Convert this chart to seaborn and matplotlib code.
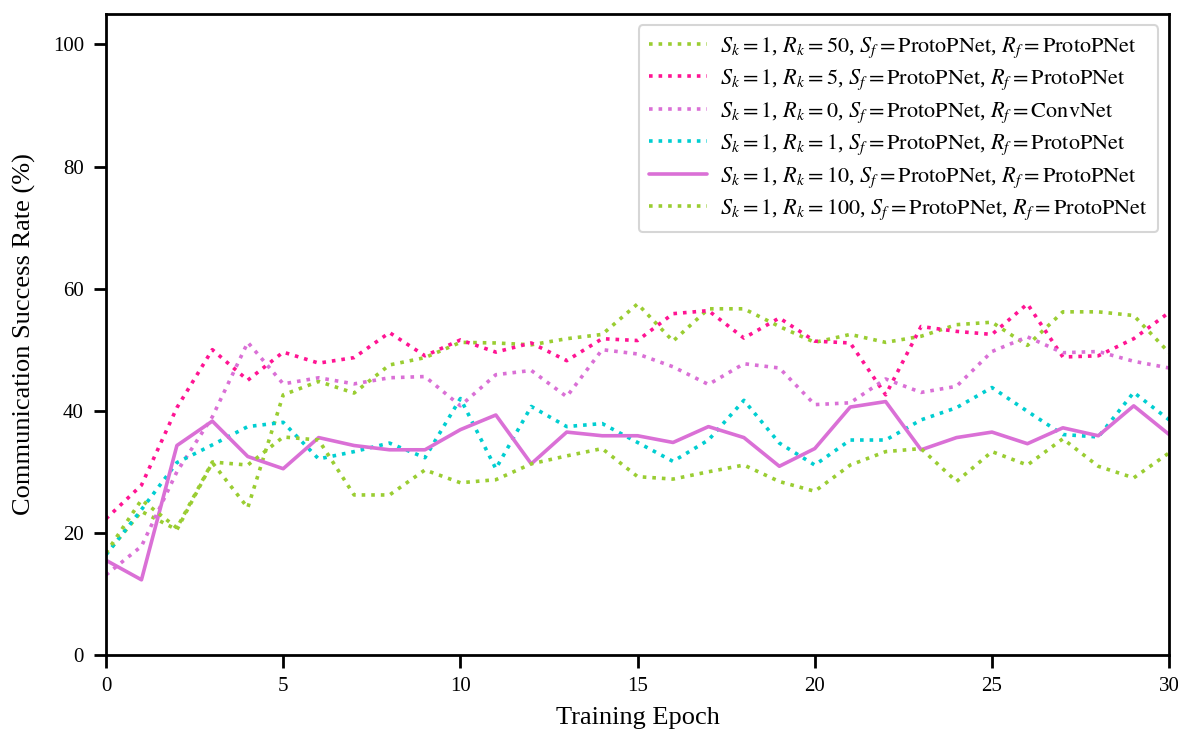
import numpy as np
import pandas as pd
import matplotlib
matplotlib.use("Agg")
import matplotlib.pyplot as plt
import seaborn as sns

epochs = list(range(31))

rk50 = [16.5, 23.5, 20.5, 31.5, 24.1, 42.6, 44.8, 42.9, 47.5, 48.7, 51.2,
        51.1, 50.8, 51.8, 52.5, 57.5, 51.4, 56.7, 56.7, 53.8, 51.2,
        52.5, 51.2, 52.2, 54.1, 54.5, 50.7, 56.2, 56.2, 55.6, 49.5]
rk5 = [22.3, 27.8, 40.5, 50.0, 45.0, 49.6, 47.8, 48.7, 52.8, 49.0, 51.6,
       49.6, 51.1, 48.2, 51.8, 51.5, 55.9, 56.4, 51.9, 55.2, 51.4,
       51.1, 42.6, 53.8, 53.0, 52.5, 57.5, 48.8, 49.0, 51.8, 56.1]
rk0 = [13.1, 17.8, 30.0, 39.0, 51.2, 44.4, 45.4, 44.4, 45.4, 45.6, 40.8,
       45.9, 46.6, 42.3, 50.0, 49.3, 47.2, 44.3, 47.7, 47.0, 41.0,
       41.3, 45.2, 43.0, 44.0, 49.7, 52.1, 49.5, 49.7, 48.1, 47.0]
rk1 = [16.4, 23.8, 31.5, 34.4, 37.4, 38.1, 32.1, 33.3, 34.7, 32.3, 42.0,
       30.5, 40.7, 37.4, 37.9, 34.8, 31.7, 35.2, 41.7, 34.7, 31.1,
       35.2, 35.2, 38.5, 40.5, 43.8, 39.9, 36.1, 35.7, 43.0, 38.5]
rk10 = [15.5, 12.3, 34.3, 38.3, 32.5, 30.5, 35.6, 34.3, 33.6, 33.6, 36.9,
        39.3, 31.3, 36.5, 35.9, 35.9, 34.8, 37.4, 35.6, 30.9, 33.8,
        40.6, 41.5, 33.6, 35.6, 36.5, 34.6, 37.2, 35.9, 40.8, 36.1]
rk100 = [16.7, 25.4, 20.8, 31.6, 31.1, 35.7, 35.2, 26.2, 26.2, 30.3, 28.2,
         28.7, 31.3, 32.6, 33.8, 29.2, 28.8, 30.0, 31.1, 28.4, 26.8,
         31.1, 33.3, 33.8, 28.4, 33.3, 31.1, 35.4, 30.9, 29.0, 33.1]

labels = [
    r"$S_k=1$, $R_k=50$, $S_f=\mathrm{ProtoPNet}$, $R_f=\mathrm{ProtoPNet}$",
    r"$S_k=1$, $R_k=5$, $S_f=\mathrm{ProtoPNet}$, $R_f=\mathrm{ProtoPNet}$",
    r"$S_k=1$, $R_k=0$, $S_f=\mathrm{ProtoPNet}$, $R_f=\mathrm{ConvNet}$",
    r"$S_k=1$, $R_k=1$, $S_f=\mathrm{ProtoPNet}$, $R_f=\mathrm{ProtoPNet}$",
    r"$S_k=1$, $R_k=10$, $S_f=\mathrm{ProtoPNet}$, $R_f=\mathrm{ProtoPNet}$",
    r"$S_k=1$, $R_k=100$, $S_f=\mathrm{ProtoPNet}$, $R_f=\mathrm{ProtoPNet}$",
]
series = [rk50, rk5, rk0, rk1, rk10, rk100]
colors = ["yellowgreen", "deeppink", "orchid", "darkturquoise", "orchid", "yellowgreen"]
styles = [":", ":", ":", ":", "-", ":"]

sns.set_style("ticks")
plt.rcParams.update({
    'font.family': ['Liberation Serif', 'DejaVu Serif'],
    'mathtext.fontset': 'stix',
    'axes.edgecolor': 'black',
    'axes.labelcolor': 'black',
    'text.color': 'black',
    'xtick.color': 'black',
    'ytick.color': 'black',
    'xtick.bottom': True,
    'ytick.left': True,
    'xtick.direction': 'out',
    'ytick.direction': 'out',
    'xtick.major.size': 9,
    'ytick.major.size': 9,
    'xtick.major.width': 2,
    'ytick.major.width': 2,
    'xtick.major.pad': 7,
    'ytick.major.pad': 7,
    'xtick.labelsize': 15,
    'ytick.labelsize': 15,
})

fig = plt.figure(figsize=(11.78, 7.35), dpi=100)
ax = fig.add_axes([0.09, 0.109, 0.9025, 0.872])

for vals, lab, c, ls in zip(series, labels, colors, styles):
    sns.lineplot(x=epochs, y=vals, ax=ax, color=c, linestyle=ls,
                 linewidth=2.6, label=lab)

ax.set_xlim(0, 30)
ax.set_ylim(0, 105)
ax.set_xticks([0, 5, 10, 15, 20, 25, 30])
ax.set_yticks([0, 20, 40, 60, 80, 100])
for s in ax.spines.values():
    s.set_linewidth(2)
    s.set_visible(True)
ax.set_xlabel("Training Epoch", fontsize=19, labelpad=8)
ax.set_ylabel("Communication Success Rate (%)", fontsize=19, labelpad=12)

leg = ax.legend(loc="upper right", fontsize=16, frameon=True, fancybox=True,
                handlelength=2.6, labelspacing=0.36, borderpad=0.45,
                handletextpad=0.6)
leg.get_frame().set_edgecolor("#cccccc")
leg.get_frame().set_linewidth(1.5)

fig.savefig("out.png", dpi=100)
